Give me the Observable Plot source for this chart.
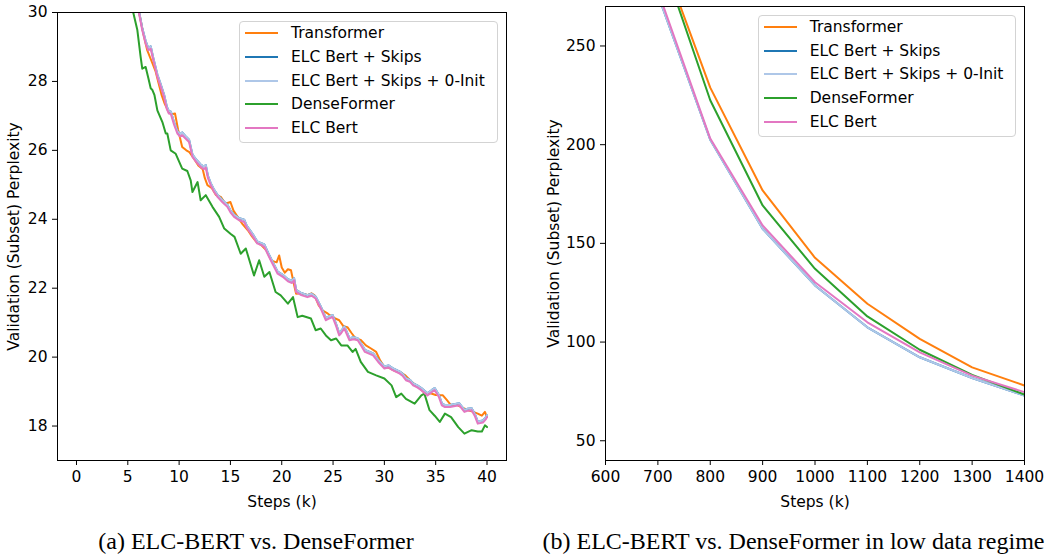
<!DOCTYPE html>
<html><head><meta charset="utf-8">
<script src="https://cdn.jsdelivr.net/npm/d3@7"></script>
<script src="https://cdn.jsdelivr.net/npm/@observablehq/plot@0.6"></script>
<style>
body{margin:0;background:#fff;}
#wrap{position:relative;width:1047px;height:555px;overflow:hidden;background:#fff;}
.panel{position:absolute;top:0;}
.legend{position:absolute;border:1px solid #d3d3d3;border-radius:4px;background:rgba(255,255,255,0.8);box-sizing:border-box;font:15.5px "DejaVu Sans";color:#000;}
.row{position:absolute;left:0;height:20px;display:flex;align-items:center;white-space:nowrap;}
.sw{display:inline-block;width:33px;height:2px;margin-left:5px;margin-right:13px;}
.cap{position:absolute;font:24px "Liberation Serif";line-height:27px;transform:translateX(-50%);white-space:nowrap;color:#000;}
</style></head><body><div id="wrap"></div><script>
// ---------- shared ----------
const seriesNames = ["Transformer","ELC Bert + Skips","ELC Bert + Skips + 0-Init","DenseFormer","ELC Bert"];
const seriesColors = ["#ff7f0e","#1f77b4","#aec7e8","#2ca02c","#e377c2"];
const yLabel = "Validation (Subset) Perplexity";
const xLabel = "Steps (k)";
const captionA = "(a) ELC-BERT vs. DenseFormer";
const captionB = "(b) ELC-BERT vs. DenseFormer in low data regime";

// ---------- panel (a) ----------
const aXTicks = [0,5,10,15,20,25,30,35,40];
const aYTicks = [18,20,22,24,26,28,30];
const aTransformerX = [5.6,6.1,6.5,6.9,7.3,7.7,8.0,8.3,8.6,9.0,9.3,9.6,9.9,10.3,10.7,11.0,11.45,11.9,12.3,12.5,12.76,13.2,13.6,14.06,14.5,15.0,15.3,15.7,16.2,16.7,17.1,17.5,18.0,18.5,19.0,19.5,19.75,20.0,20.3,20.6,20.9,21.2,21.4,21.9,22.5,22.9,23.2,23.6,24.0,24.5,25.0,25.6,26.0,26.4,26.8,27.2,27.7,28.2,28.7,29.2,29.6,30.0,30.5,31.0,31.5,32.0,32.6,33.0,33.3,34.0,34.5,35.0,35.7,36.1,36.5,37.0,37.5,38.15,38.6,39.1,39.5,39.8,40.0];
const aTransformerY = [31.0,30.0,29.4,28.9,28.6,28.3,27.95,27.6,27.35,27.1,27.05,27.07,26.6,26.1,26.0,25.95,25.76,25.55,25.45,25.2,24.99,24.9,24.7,24.65,24.45,24.5,24.25,24.07,23.85,23.68,23.5,23.35,23.25,23.1,22.8,22.75,22.95,22.6,22.45,22.55,22.52,22.1,21.84,21.85,21.8,21.85,21.79,21.5,21.35,21.26,21.15,21.07,20.9,20.87,20.7,20.54,20.5,20.34,20.25,20.15,19.9,19.71,19.68,19.6,19.57,19.48,19.3,19.2,19.13,18.94,18.95,18.9,18.89,18.75,18.6,18.62,18.55,18.46,18.42,18.36,18.3,18.41,18.26];
const aElcX = [5.6,6.08,6.4,6.74,7.0,7.23,7.5,7.88,8.2,8.53,8.8,9.0,9.2,9.5,9.83,10.1,10.3,10.6,10.97,11.3,11.7,12.1,12.4,12.6,12.8,13.08,13.4,13.74,14.2,14.7,15.0,15.36,15.8,16.34,16.6,17.0,17.3,17.6,18.0,18.3,18.7,19.1,19.6,20.1,20.6,21.0,21.2,21.4,21.9,22.5,22.9,23.3,23.8,24.3,24.6,24.96,25.3,25.6,25.8,26.1,26.6,27.0,27.4,27.8,28.1,28.5,28.9,29.4,30.0,30.4,30.8,31.5,31.8,32.1,32.5,32.8,33.2,33.6,34.2,34.6,34.9,35.3,35.6,35.9,36.4,36.9,37.3,37.8,38.1,38.5,38.8,39.1,39.6,39.9,40.0];
const aSkipsY = [31.0,30.05,29.56,29.17,28.97,29.02,28.66,28.2,27.92,27.62,27.27,27.14,27.12,26.82,26.56,26.47,26.52,26.42,26.31,25.88,25.72,25.59,25.53,25.57,25.27,25.05,24.86,24.71,24.56,24.42,24.26,24.13,24.04,23.99,23.81,23.64,23.51,23.36,23.31,23.27,23.01,22.77,22.48,22.39,22.26,22.21,22.29,21.95,21.86,21.8,21.84,21.76,21.47,21.13,21.18,21.22,20.96,20.69,20.76,20.89,20.55,20.58,20.55,20.36,20.21,20.16,20.11,19.92,19.73,19.76,19.68,19.58,19.51,19.39,19.34,19.24,19.18,19.1,18.95,19.04,19.1,18.91,18.66,18.61,18.61,18.64,18.66,18.47,18.5,18.52,18.36,18.13,18.16,18.26,18.32];
const aZeroInitY = [31.0,30.05,29.56,29.17,28.97,29.02,28.66,28.2,27.92,27.62,27.27,27.14,27.12,26.82,26.56,26.47,26.52,26.42,26.31,25.88,25.72,25.59,25.53,25.57,25.27,25.05,24.86,24.71,24.56,24.42,24.26,24.13,24.04,23.99,23.81,23.64,23.51,23.36,23.31,23.27,23.01,22.77,22.48,22.39,22.26,22.21,22.29,21.95,21.86,21.8,21.84,21.76,21.47,21.13,21.18,21.22,20.96,20.69,20.76,20.89,20.55,20.58,20.55,20.36,20.21,20.16,20.11,19.92,19.73,19.76,19.68,19.58,19.51,19.39,19.34,19.24,19.18,19.1,18.95,19.04,19.1,18.91,18.66,18.61,18.61,18.64,18.66,18.47,18.5,18.52,18.36,18.13,18.16,18.26,18.32];
const aElcY = [31.0,30.0,29.5,29.1,28.9,28.95,28.6,28.13,27.85,27.55,27.2,27.07,27.05,26.75,26.49,26.4,26.44,26.35,26.24,25.81,25.65,25.52,25.45,25.5,25.2,24.99,24.8,24.65,24.5,24.36,24.2,24.07,23.98,23.92,23.75,23.58,23.45,23.3,23.25,23.2,22.95,22.71,22.42,22.33,22.2,22.15,22.23,21.89,21.8,21.74,21.78,21.7,21.41,21.07,21.12,21.16,20.9,20.63,20.7,20.83,20.49,20.52,20.49,20.3,20.15,20.1,20.05,19.86,19.67,19.7,19.62,19.52,19.45,19.33,19.28,19.18,19.12,19.04,18.89,18.98,19.04,18.85,18.6,18.55,18.55,18.58,18.6,18.41,18.44,18.46,18.3,18.07,18.1,18.2,18.26];
const aDenseX = [5.1,5.53,5.93,6.25,6.41,6.74,7.0,7.23,7.4,7.6,7.88,8.37,8.7,8.85,9.18,9.67,10.3,10.8,11.13,11.3,11.8,12.1,12.6,13.25,13.9,14.4,15.0,15.4,16.0,16.5,17.3,17.8,18.3,18.8,19.4,19.9,20.6,21.1,21.55,22.0,22.85,23.3,23.8,24.3,24.8,25.3,25.8,26.4,26.9,27.2,27.7,28.4,29.2,30.0,30.7,31.15,31.65,32.1,32.95,33.6,33.9,34.4,34.9,35.4,35.9,36.5,37.2,37.8,38.5,39.1,39.5,39.8,40.0];
const aDenseY = [31.0,30.0,29.49,28.71,28.37,28.42,28.1,27.8,27.75,27.6,27.16,26.82,26.49,26.49,26.0,25.9,25.47,25.4,25.13,24.79,25.08,24.55,24.7,24.36,24.07,23.73,23.58,23.49,23.0,23.15,22.37,22.81,22.33,22.47,21.89,21.79,21.55,21.74,21.16,21.2,21.12,20.78,20.83,20.63,20.49,20.54,20.34,20.34,20.15,20.24,19.86,19.57,19.47,19.38,19.18,18.84,18.94,18.79,18.65,18.89,18.94,18.46,18.3,18.12,18.36,18.26,17.97,17.78,17.88,17.84,17.84,18.02,17.97];

// ---------- panel (b) ----------
const bXTicks = [600,700,800,900,1000,1100,1200,1300,1400];
const bYTicks = [50,100,150,200,250];
const bSteps = [700,800,900,1000,1100,1200,1300,1400];
const bTransformerY = [301,228.9,176.8,142.7,119.4,101.6,87.2,78.0];
const bSkipsY = [276,202.5,157.4,128.7,107.5,92.3,81.8,72.9];
const bZeroInitY = [276,202.5,157.4,128.7,107.5,92.3,81.8,72.9];
const bDenseY = [300,222.5,169.2,137.1,113.0,96.1,83.4,73.4];
const bElcY = [278,203.1,159.1,130.3,110.0,94.8,83.0,74.6];

const zip = (xs, ys) => xs.map((x, i) => ({x, y: ys[i]}));
const aSeries = [
  zip(aTransformerX, aTransformerY),
  zip(aElcX, aSkipsY),
  zip(aElcX, aZeroInitY),
  zip(aDenseX, aDenseY),
  zip(aElcX, aElcY)
];
const bSeries = [bTransformerY, bSkipsY, bZeroInitY, bDenseY, bElcY].map(ys => zip(bSteps, ys));

const baseStyle = {fontFamily: "DejaVu Sans", fontSize: "15.5px", color: "#000", background: "transparent", overflow: "visible"};

function makePanel({series, xDomain, yDomain, xTicks, yTicks, width, height, ml, mr, mt, mb, yLabelOffset}) {
  return Plot.plot({
    width, height, marginLeft: ml, marginRight: mr, marginTop: mt, marginBottom: mb,
    style: baseStyle,
    x: {domain: xDomain},
    y: {domain: yDomain},
    marks: [
      ...series.map((d, i) => Plot.line(d, {x: "x", y: "y", stroke: seriesColors[i], strokeWidth: 2, clip: true})),
      Plot.frame({stroke: "#000", strokeWidth: 1}),
      Plot.axisX({ticks: xTicks, tickSize: 5, tickPadding: 5, tickFormat: d3.format("d"), label: xLabel, labelAnchor: "center", labelOffset: 46, labelArrow: "none"}),
      Plot.axisY({ticks: yTicks, tickSize: 5, tickPadding: 5, tickFormat: d3.format("d"), label: yLabel, labelAnchor: "center", labelOffset: yLabelOffset, labelArrow: "none"})
    ]
  });
}

const wrap = document.getElementById("wrap");

const pa = makePanel({series: aSeries, xDomain: [-1.85, 41.9], yDomain: [17, 30], xTicks: aXTicks, yTicks: aYTicks,
  width: 530, height: 512, ml: 57, mr: 24, mt: 12, mb: 52, yLabelOffset: 50});
pa.classList.add("panel"); pa.style.left = "0px";
wrap.appendChild(pa);

const pb = makePanel({series: bSeries, xDomain: [600, 1400], yDomain: [40, 270], xTicks: bXTicks, yTicks: bYTicks,
  width: 517, height: 510, ml: 75, mr: 23, mt: 6, mb: 50, yLabelOffset: 58});
pb.classList.add("panel"); pb.style.left = "530px";
wrap.appendChild(pb);

function legend(left, top, width, height, firstCenter, spacing) {
  const box = document.createElement("div");
  box.className = "legend";
  Object.assign(box.style, {left: left + "px", top: top + "px", width: width + "px", height: height + "px"});
  seriesNames.forEach((name, i) => {
    const row = document.createElement("div");
    row.className = "row";
    row.style.top = (firstCenter + i * spacing - 10 - 1) + "px";
    const sw = document.createElement("span");
    sw.className = "sw"; sw.style.background = seriesColors[i];
    const tx = document.createElement("span");
    tx.textContent = name;
    row.appendChild(sw); row.appendChild(tx);
    box.appendChild(row);
  });
  wrap.appendChild(box);
}
legend(239, 20.7, 259, 122.3, 12.6, 23.7);
legend(757.7, 14.7, 258.3, 122, 12.3, 23.7);

function caption(text, cx, cy) {
  const c = document.createElement("div");
  c.className = "cap"; c.textContent = text;
  c.style.left = cx + "px"; c.style.top = (cy - 13.5) + "px";
  wrap.appendChild(c);
}
caption(captionA, 256, 541.7);
caption(captionB, 793.5, 541.7);
</script></body></html>
